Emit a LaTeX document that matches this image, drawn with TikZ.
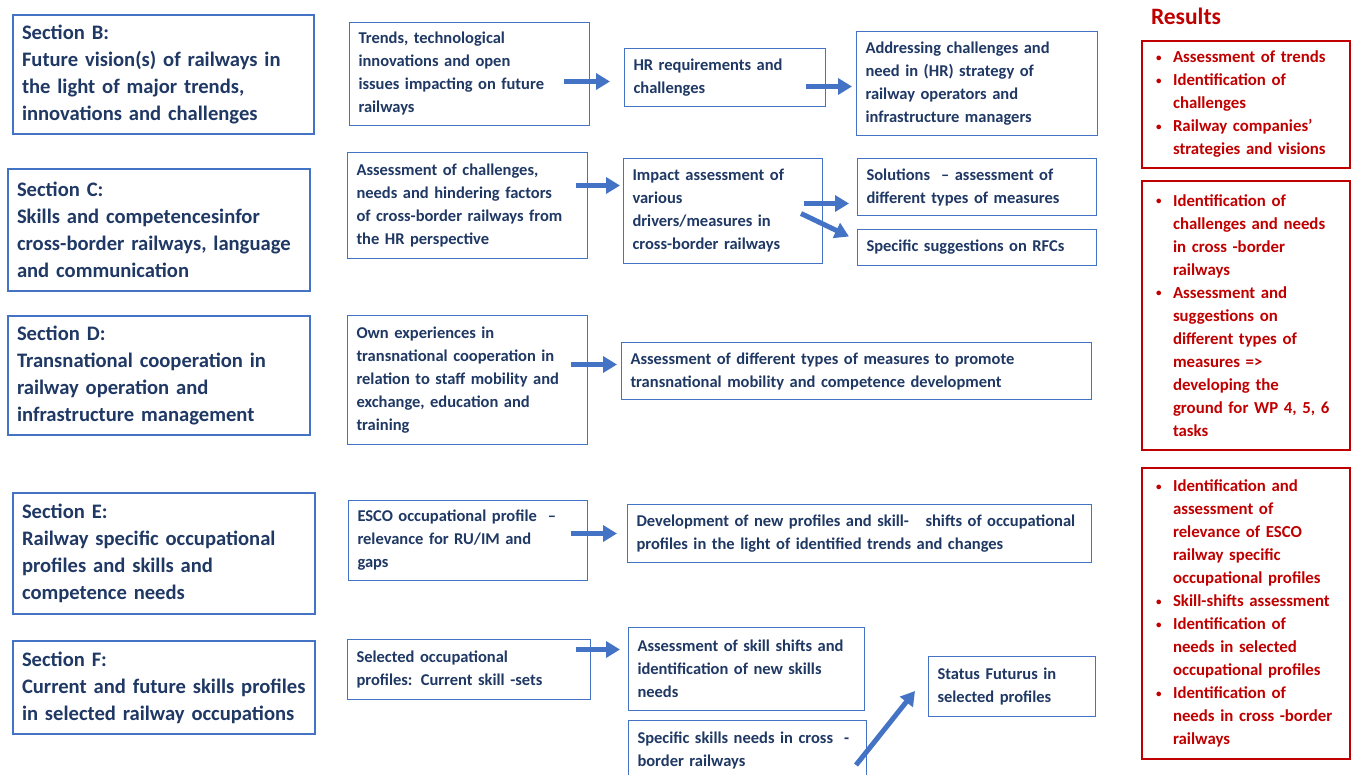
\documentclass[tikz,border=0pt]{standalone}
\usepackage{fontspec}
\setmainfont{Carlito}
\usetikzlibrary{arrows.meta}
\definecolor{boxblue}{RGB}{68,114,196}
\definecolor{inkblue}{RGB}{31,56,100}
\definecolor{resred}{RGB}{192,0,0}
\newcommand{\rbul}{\makebox[19pt][l]{\hspace*{2pt}\raisebox{1.5pt}{\fontsize{11}{11}\selectfont\textbullet}}}
\newcommand{\rind}{\hspace*{19pt}}
\tikzset{
  secbox/.style={draw=boxblue, line width=2pt, anchor=north west, inner xsep=9pt, inner ysep=0pt,
    align=left, text=inkblue, font=\fontsize{20.6}{27}\selectfont\bfseries},
  taskbox/.style={draw=boxblue, line width=1pt, anchor=north west, inner xsep=9pt, inner ysep=0pt,
    align=left, text=inkblue, font=\fontsize{16.5}{23}\selectfont\bfseries},
  resbox/.style={draw=resred, line width=2pt, anchor=north west, inner xsep=12pt, inner ysep=0pt,
    align=left, text=resred, font=\fontsize{16.8}{23}\selectfont\bfseries},
  flow/.style={draw=boxblue, line width=5pt, -{Triangle[length=14pt,width=16pt]}},
}
\begin{document}
\begin{tikzpicture}[x=1pt,y=-1pt]
\useasboundingbox[fill=white] (0,0) rectangle (1356,774);

% Sections (left column)
\node[secbox, text width=283pt, minimum height=119pt] (secB) at (12,14)
  {Section B:\\Future vision(s) of railways in\\the light of major trends,\\innovations and challenges};
\node[secbox, text width=284pt, minimum height=122pt] (secC) at (7,168)
  {Section C:\\Skills and competencesinfor\\cross-border railways, language\\and communication};
\node[secbox, text width=284pt, minimum height=119pt] (secD) at (7,315)
  {Section D:\\Transnational cooperation in\\railway operation and\\infrastructure management};
\node[secbox, text width=284pt, minimum height=121pt] (secE) at (12,492)
  {Section E:\\Railway specific occupational\\profiles and skills and\\competence needs};
\node[secbox, text width=284pt, minimum height=93pt] (secF) at (12,640)
  {Section F:\\Current and future skills profiles\\in selected railway occupations};

% Inputs (second column)
\node[taskbox, text width=222pt, minimum height=103pt] (trends) at (349,22)
  {Trends, technological\\innovations and open\\issues impacting on future\\railways};
\node[taskbox, text width=222pt, minimum height=106pt] (chall) at (347,152)
  {Assessment of challenges,\\needs and hindering factors\\of cross-border railways from\\the HR perspective};
\node[taskbox, text width=222pt, minimum height=129pt] (ownexp) at (347,315)
  {Own experiences in\\transnational cooperation in\\relation to staff mobility and\\exchange, education and\\training};
\node[taskbox, text width=221pt, minimum height=80pt] (esco) at (348,500)
  {ESCO occupational profile~~–\\relevance for RU/IM and\\gaps};
\node[taskbox, text width=225pt, minimum height=60pt] (selected) at (347,639)
  {Selected occupational\\profiles: Current skill -sets};

% Outcomes (third and fourth column)
\node[taskbox, text width=183pt, minimum height=58pt] (hr) at (624,48)
  {HR requirements and\\challenges};
\node[taskbox, text width=223pt, minimum height=104pt] (addr) at (856,31)
  {Addressing challenges and\\need in (HR) strategy of\\railway operators and\\infrastructure managers};
\node[taskbox, text width=181pt, minimum height=105pt] (impact) at (623,158)
  {Impact assessment of\\various\\drivers/measures in\\cross-border railways};
\node[taskbox, text width=221pt, minimum height=57pt] (sol) at (857,158)
  {Solutions~~– assessment of\\different types of measures};
\node[taskbox, text width=221pt, minimum height=36pt] (sugg) at (857,229)
  {Specific suggestions on RFCs};
\node[taskbox, text width=452pt, minimum height=57pt] (measures) at (621,342)
  {Assessment of different types of measures to promote\\transnational mobility and competence development};
\node[taskbox, text width=446pt, minimum height=58pt] (develop) at (627,504)
  {Development of new profiles and skill-~~~shifts of occupational\\profiles in the light of identified trends and changes};
\node[taskbox, text width=218pt, minimum height=83pt] (shifts) at (628,627)
  {Assessment of skill shifts and\\identification of new skills\\needs};
\node[taskbox, text width=149pt, minimum height=60pt] (status) at (928,656)
  {Status Futurus in\\selected profiles};
\node[taskbox, text width=220pt, minimum height=59pt] (specific) at (628,720)
  {Specific skills needs in cross~~-\\border railways};

% Arrows
\draw[flow] ([shift={(-26,7.5)}]trends.east) -- ([shift={(-14,4)}]hr.west);
\draw[flow] ([shift={(-20,9)}]hr.east) -- ([shift={(-4,3)}]addr.west);
\draw[flow] ([shift={(-12,-20)}]chall.east) -- ([shift={(-3,-25.5)}]impact.west);
\draw[flow] ([shift={(-19,-7.5)}]impact.east) -- ([shift={(-8,16.5)}]sol.west);
\draw[flow] ([shift={(-22,2.5)}]impact.east) -- ([shift={(-8,-11)}]sugg.west);
\draw[flow] ([shift={(-17,-15.5)}]ownexp.east) -- ([shift={(-4,-6.5)}]measures.west);
\draw[flow] ([shift={(-17,-7)}]esco.east) -- ([shift={(-10,0)}]develop.west);
\draw[flow] ([shift={(-15,-20)}]selected.east) -- ([shift={(-8,-19.5)}]shifts.west);
\draw[flow] ([shift={(-11,45)}]specific.north east) -- ([shift={(-13,-26)}]status.south west);

% Results (right column)
\node[text=resred, font=\fontsize{23.5}{26}\selectfont\bfseries] (results) at (1186,16) {Results};
\node[resbox, text width=184pt, minimum height=127pt] (res1) at (1141,40)
  {\rbul Assessment of trends\\
   \rbul Identification of\\\rind challenges\\
   \rbul Railway companies’\\\rind strategies and visions};
\node[resbox, text width=184pt, minimum height=269pt] (res2) at (1141,180)
  {\rbul Identification of\\\rind challenges and needs\\\rind in cross -border\\\rind railways\\
   \rbul Assessment and\\\rind suggestions on\\\rind different types of\\\rind measures =>\\\rind developing the\\\rind ground for WP 4, 5, 6\\\rind tasks};
\node[resbox, text width=184pt, minimum height=291pt] (res3) at (1141,467)
  {\rbul Identification and\\\rind assessment of\\\rind relevance of ESCO\\\rind railway specific\\\rind occupational profiles\\
   \rbul Skill-shifts assessment\\
   \rbul Identification of\\\rind needs in selected\\\rind occupational profiles\\
   \rbul Identification of\\\rind needs in cross -border\\\rind railways};
\end{tikzpicture}
\end{document}
